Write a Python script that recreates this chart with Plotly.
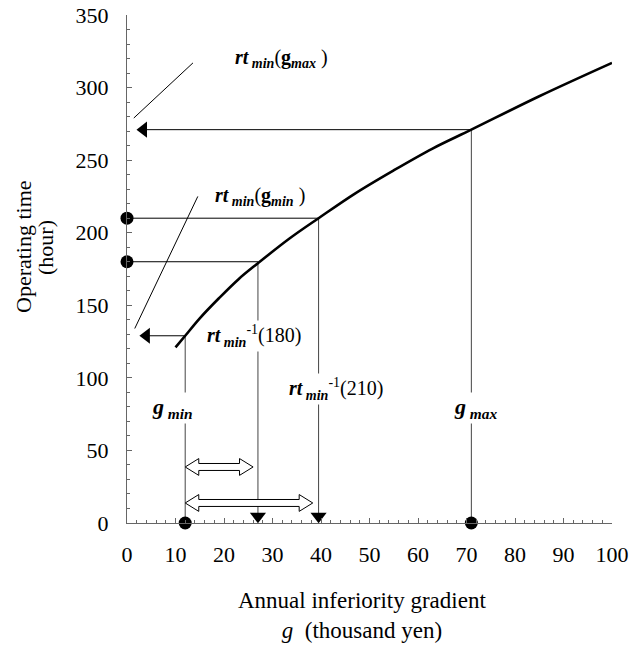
import plotly.graph_objects as go

# curve rt_min(g): operating time vs annual inferiority gradient
g_curve = [10, 12, 15, 19, 23, 27, 33.5, 39.5, 47, 55, 63, 71, 85, 100]
rt_curve = [121, 129, 141, 155, 168, 179, 196, 210, 227, 243, 258, 271, 294, 317]

# marked points
g_min, rt_at_gmin = 12, 129
g_max, rt_at_gmax = 71, 271
rt_levels = [180, 210]
g_at_levels = [27, 39.5]

FONT = "Liberation Serif"
INK = "black"
THIN = "#444444"

fig = go.Figure()


def line(x, y, color=INK, width=1, shape="linear"):
    fig.add_trace(go.Scatter(x=x, y=y, mode="lines", line=dict(color=color, width=width, shape=shape),
                             hoverinfo="skip", showlegend=False, cliponaxis=False))


def marks(x, y, symbol, size):
    fig.add_trace(go.Scatter(x=x, y=y, mode="markers",
                             marker=dict(symbol=symbol, size=size, color=INK, line=dict(width=0)),
                             hoverinfo="skip", showlegend=False, cliponaxis=False))


def double_arrow(x0, x1, y, head=2.8, hh=5.8, sh=2.4):
    xs = [x0, x0 + head, x0 + head, x1 - head, x1 - head, x1, x1 - head, x1 - head, x0 + head, x0 + head, x0]
    ys = [y, y + hh, y + sh, y + sh, y + hh, y, y - hh, y - sh, y - sh, y - hh, y]
    fig.add_trace(go.Scatter(x=xs, y=ys, mode="lines", fill="toself", fillcolor="white",
                             line=dict(color=INK, width=1), hoverinfo="skip", showlegend=False))


# vertical drop lines
line([g_min, g_min], [rt_at_gmin, 0], THIN)
line([g_max, g_max], [rt_at_gmax, 0], THIN)
for g, rt in zip(g_at_levels, rt_levels):
    line([g, g], [rt, 4], THIN)
    line([g, 0], [rt, rt])

# horizontal arrows to the y axis
line([g_max, 3], [rt_at_gmax, rt_at_gmax])
line([g_min, 4], [rt_at_gmin, rt_at_gmin])
marks([3.4, 4.0], [rt_at_gmax, rt_at_gmin], "triangle-left", 14)
marks(g_at_levels, [4.6, 4.6], "triangle-down", 14)

# dots on the axes
marks([0, 0], rt_levels, "circle", 13)
marks([g_min, g_max], [0, 0], "circle", 13)

# hollow double arrows
double_arrow(g_min, g_at_levels[0] - 1, 38.6)
double_arrow(g_min, g_at_levels[1] - 1.2, 13.8)

# main curve
line(g_curve, rt_curve, INK, 2.6, "spline")

# leader lines for the rt_min labels
fig.add_shape(type="line", x0=13.6, y0=317, x1=1.4, y1=279, line=dict(color=INK, width=1))
fig.add_shape(type="line", x0=14.6, y0=225, x1=1.6, y1=134, line=dict(color=INK, width=1))

lab = dict(font=dict(family=FONT, size=20, color=INK), showarrow=False)
big = dict(font=dict(family=FONT, size=22, color=INK), showarrow=False)
fig.add_annotation(x=21.9, y=320, xanchor="left", yanchor="middle",
                   text="<b><i>rt</i></b><sub><b><i> min</i></b></sub>(<b>g</b><sub><b><i>max</i></b></sub> )", **lab)
fig.add_annotation(x=17.7, y=225, xanchor="left", yanchor="middle",
                   text="<b><i>rt</i></b><sub><b><i> min</i></b></sub>(<b>g</b><sub><b><i>min</i></b></sub> )", **lab)
fig.add_annotation(x=26.2, y=129, xanchor="center", yanchor="middle", bgcolor="white",
                   text="<b><i>rt</i></b><sub><b><i> min</i></b></sub><sup>-1</sup>(180)", **lab)
fig.add_annotation(x=43.1, y=92, xanchor="center", yanchor="middle", bgcolor="white",
                   text="<b><i>rt</i></b><sub><b><i> min</i></b></sub><sup>-1</sup>(210)", **lab)
fig.add_annotation(x=9.3, y=79, xanchor="center", yanchor="middle", bgcolor="white",
                   text="<b><i>g</i></b><sub><b><i> min</i></b></sub>", **big)
fig.add_annotation(x=72, y=79, xanchor="center", yanchor="middle", bgcolor="white",
                   text="<b><i>g</i></b><sub><b><i> max</i></b></sub>", **big)

# axis titles (placed in paper units of the 127..612 x 15..523 plot box)
ytitle = dict(xref="paper", yref="paper", textangle=-90, xanchor="center", yanchor="middle",
              showarrow=False, font=dict(family=FONT, size=22, color=INK))
fig.add_annotation(x=(24 - 127) / 485, y=(523 - 247) / 508, text="Operating time", **ytitle)
fig.add_annotation(x=(46 - 127) / 485, y=(523 - 248) / 508, text="(hour)", **ytitle)
fig.add_annotation(xref="paper", yref="paper", x=0.485, y=-0.182, xanchor="center", yanchor="middle",
                   text="Annual inferiority gradient<br><i>g</i>  (thousand yen)", showarrow=False,
                   font=dict(family=FONT, size=23, color=INK))

axis = dict(showgrid=False, zeroline=False, showline=True, linecolor="#666666", linewidth=1,
            ticks="inside", ticklen=5, tickcolor="#666666", automargin=False,
            ticklabeloverflow="allow", tickfont=dict(family=FONT, size=22, color=INK))
fig.update_xaxes(range=[0, 100], dtick=10, ticklabelstandoff=12,
                 minor=dict(dtick=2, ticks="inside", ticklen=3, tickcolor="#666666"), **axis)
fig.update_yaxes(range=[0, 350], dtick=50, ticklabelstandoff=13,
                 minor=dict(dtick=10, ticks="inside", ticklen=3, tickcolor="#666666"), **axis)

fig.update_layout(width=631, height=653, margin=dict(l=127, r=19, t=15, b=130),
                  plot_bgcolor="white", paper_bgcolor="white", showlegend=False)

# drop the browser's default body margin so the figure sits at the page origin
fig.write_html("out.html", config={"displayModeBar": False},
               post_script="document.body.style.margin='0';")
